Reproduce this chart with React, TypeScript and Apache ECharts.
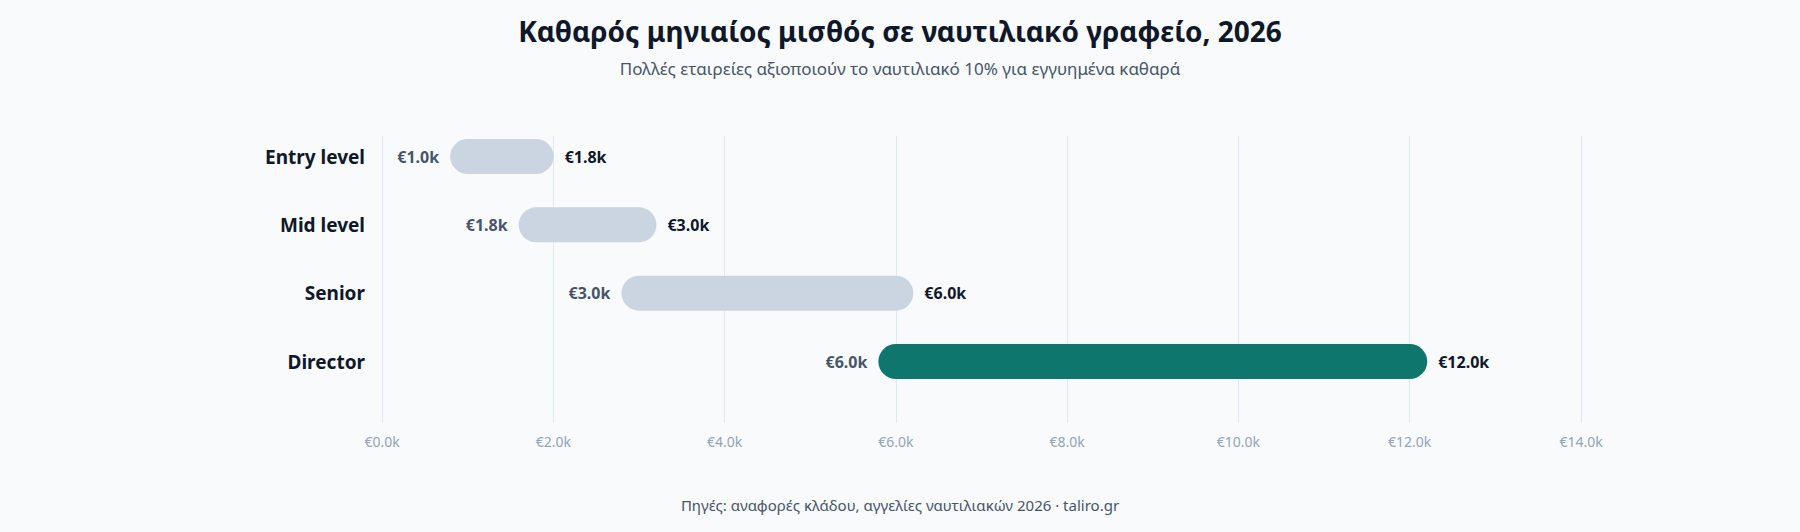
import React, { useEffect, useRef } from "react";
import * as echarts from "echarts";

const categories = ["Entry level", "Mid level", "Senior", "Director"];
const lowValues = [1000, 1800, 3000, 6000];
const highValues = [1800, 3000, 6000, 12000];
const highlightIndex = 3;
const xTicks = { min: 0, max: 14000, interval: 2000 };

const FONT = "'Noto Sans', 'DejaVu Sans', sans-serif";
const BG = "#f8fafc";

const fmtK = (v: number) => "€" + (v / 1000).toFixed(1) + "k";

export default function App() {
  const ref = useRef<HTMLDivElement>(null);

  useEffect(() => {
    document.body.style.margin = "0";
    document.body.style.background = BG;
    if (!ref.current) return;
    const chart = echarts.init(ref.current, null, { renderer: "svg" });

    const rows = categories.map((c, i) => [i, lowValues[i], highValues[i]]);
    const gridLeft = 382;

    chart.setOption({
      animation: false,
      backgroundColor: BG,
      textStyle: { fontFamily: FONT },
      title: [
        {
          text: "Καθαρός μηνιαίος μισθός σε ναυτιλιακό γραφείο, 2026",
          left: "center",
          top: 12,
          textStyle: { fontFamily: FONT, fontSize: 28, fontWeight: "bold", color: "#0f172a" },
        },
        {
          text: "Πολλές εταιρείες αξιοποιούν το ναυτιλιακό 10% για εγγυημένα καθαρά",
          left: "center",
          top: 55,
          textStyle: { fontFamily: FONT, fontSize: 17, fontWeight: "normal", color: "#475569" },
        },
        {
          text: "Πηγές: αναφορές κλάδου, αγγελίες ναυτιλιακών 2026 · taliro.gr",
          left: "center",
          top: 492,
          textStyle: { fontFamily: FONT, fontSize: 15, fontWeight: "normal", color: "#475569" },
        },
      ],
      grid: { left: gridLeft, right: 219, top: 136, bottom: 109 },
      xAxis: {
        type: "value",
        min: xTicks.min,
        max: xTicks.max,
        interval: xTicks.interval,
        axisLine: { show: false },
        axisTick: { show: false },
        splitLine: { show: true, lineStyle: { color: "#e2e8f0", width: 1 } },
        axisLabel: {
          formatter: (v: number) => fmtK(v),
          color: "#94a3b8",
          fontSize: 14,
          fontFamily: FONT,
          margin: 11,
        },
      },
      yAxis: {
        type: "value",
        inverse: true,
        min: -0.3,
        max: 3.9,
        show: false,
        splitLine: { show: false },
      },
      series: [
        {
          type: "custom",
          data: rows,
          encode: { x: [1, 2], y: 0 },
          renderItem: (params: any, api: any) => {
            const idx = api.value(0);
            const lo = api.value(1);
            const hi = api.value(2);
            const p0 = api.coord([lo, idx]);
            const p1 = api.coord([hi, idx]);
            const h = 35;
            const r = h / 2;
            const isHi = idx === highlightIndex;
            return {
              type: "group",
              children: [
                {
                  type: "rect",
                  shape: { x: p0[0] - r, y: p0[1] - r, width: p1[0] - p0[0] + h, height: h, r },
                  style: { fill: isHi ? "#0f766e" : "#cbd5e1" },
                },
                {
                  type: "text",
                  x: p0[0] - r - 11,
                  y: p0[1],
                  style: {
                    text: fmtK(lo),
                    align: "right",
                    verticalAlign: "middle",
                    fill: "#475569",
                    font: `bold 16px ${FONT}`,
                  },
                },
                {
                  type: "text",
                  x: p1[0] + r + 11,
                  y: p0[1],
                  style: {
                    text: fmtK(hi),
                    align: "left",
                    verticalAlign: "middle",
                    fill: "#0f172a",
                    font: `bold 16px ${FONT}`,
                  },
                },
                {
                  type: "text",
                  x: gridLeft - 17,
                  y: p0[1],
                  style: {
                    text: categories[idx],
                    align: "right",
                    verticalAlign: "middle",
                    fill: "#0f172a",
                    font: `bold 19px ${FONT}`,
                  },
                },
              ],
            };
          },
        },
      ],
    });

    return () => chart.dispose();
  }, []);

  return (
    <div
      ref={ref}
      style={{ position: "fixed", left: 0, top: 0, width: 1800, height: 532 }}
    />
  );
}
